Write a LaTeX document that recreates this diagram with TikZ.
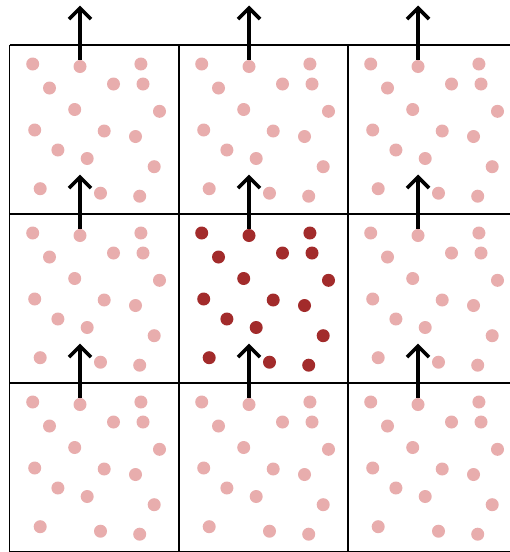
\documentclass[tikz,border=0pt]{standalone}
\usetikzlibrary{arrows.meta}
\definecolor{lightdot}{HTML}{E8ADAD}
\definecolor{darkdot}{HTML}{A22B2B}
\begin{document}
\begin{tikzpicture}[x=1pt,y=-1pt,
  dot/.style={circle,fill=#1,inner sep=0pt,minimum size=13pt},
  gridline/.style={line width=1.6pt,black},
  uparrow/.style={line width=3.6pt,black,-{Straight Barb[length=11pt,width=22pt]}}]
\useasboundingbox (0,0) rectangle (510,552);
\fill[white] (0,0) rectangle (510,552);
\foreach \x in {9.5,179,348,517} \draw[gridline] (\x,45) -- (\x,552);
\foreach \y in {45,214,383,552} \draw[gridline] (9.5,\y) -- (517,\y);
\foreach \i in {0,1,2}{
  \foreach \j in {0,1,2}{
    \def\dotcol{lightdot}
    \ifnum\i=1 \ifnum\j=1 \def\dotcol{darkdot}\fi\fi
    \foreach [count=\k] \dx/\dy in {23.2/19,70.5/21.5,131.4/19,40/43,104/39,133.5/39,65.2/64.5,150/66.3,25.2/85,94.7/86,126/91.5,48.4/105,77.7/113.5,144.7/121.7,30.7/143.7,91/148.2,130.2/151.2}{
      \node[dot=\dotcol] (d\i\j-\k) at ({9.5+169*\i+\dx},{45+169*\j+\dy}) {};
    }
    \coordinate (t\i\j) at ({9.5+169*\i+70.5},{45+169*\j+21.5-61});
    \draw[uparrow] (d\i\j-2.north) -- (t\i\j);
  }
}
\end{tikzpicture}
\end{document}
